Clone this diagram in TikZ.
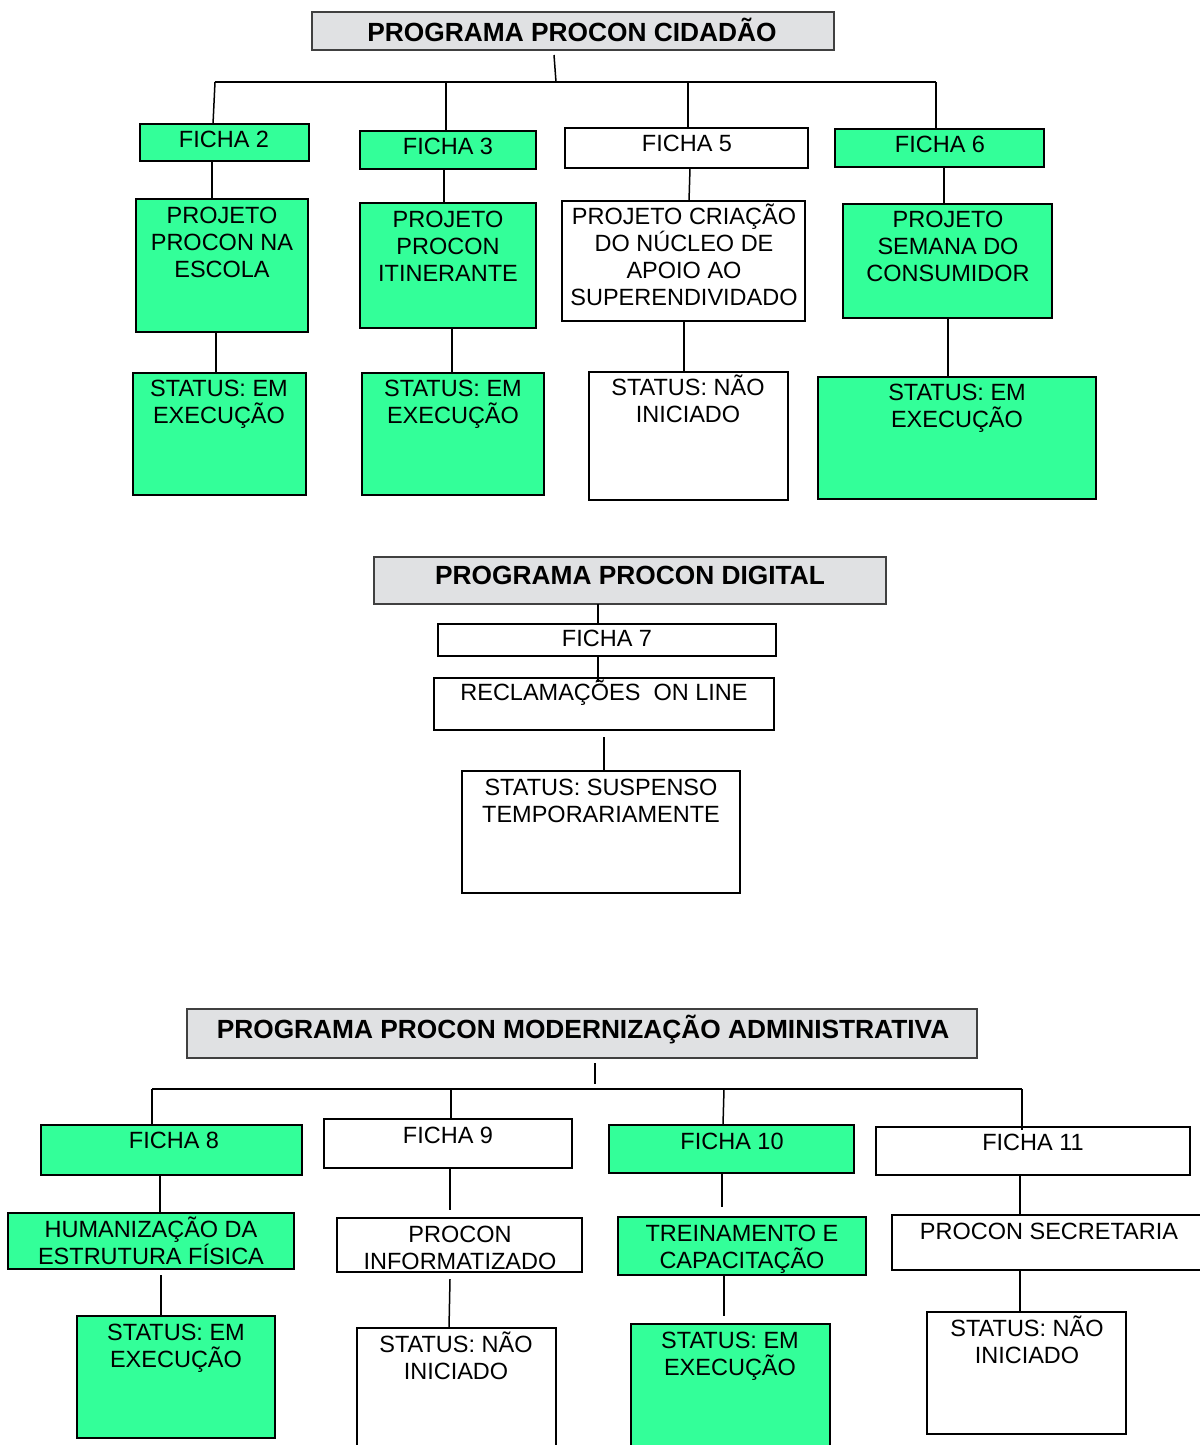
\documentclass[tikz,border=0pt]{standalone}
\usepackage{fontspec}
\setmainfont{Liberation Sans}
\usetikzlibrary{calc}
\definecolor{grn}{HTML}{33FF99}
\definecolor{ttlgray}{HTML}{E0E1E3}
\definecolor{ttlborder}{HTML}{404040}
\newcommand{\mybox}[6]{\node[#6, minimum width={(#4)-(#2)}, minimum height={(#5)-(#3)}] (#1) at ({((#2)+(#4))/2},{((#3)+(#5))/2}) {};}
\newcommand{\mytext}[5][]{\node[txt,#1] (#2) at (#3,{(#4)-13.6}) {\rule{0pt}{22pt}#5};}
\tikzset{
  boxbase/.style={rectangle, draw=black, line width=1.6pt, inner sep=0pt, outer sep=0pt},
  gbox/.style={boxbase, fill=grn},
  wbox/.style={boxbase, fill=white},
  ttlbox/.style={rectangle, draw=ttlborder, line width=2.2pt, fill=ttlgray, inner sep=0pt, outer sep=0pt},
  txt/.style={font=\fontsize{23.5}{27}\selectfont, align=center, inner sep=0pt, anchor=north},
  ttl/.style={font=\bfseries\fontsize{26.3}{30}\selectfont},
  conn/.style={line width=1.5pt, draw=black},
}
\begin{document}
\begin{tikzpicture}[x=1pt,y=-1pt]
\useasboundingbox (0,0) rectangle (1199,1445);
\fill[white] (0,0) rectangle (1199,1445);

% ---------- Section 1 ----------
\mybox{t1}{312}{12}{834}{50}{ttlbox}
\mybox{f2}{140}{124}{309}{161}{gbox}
\mybox{f3}{360}{131}{536}{169}{gbox}
\mybox{f5}{565}{128}{808}{168}{wbox}
\mybox{f6}{835}{129}{1044}{167}{gbox}
\mybox{p2}{136}{199}{308}{332}{gbox}
\mybox{p3}{360}{203}{536}{328}{gbox}
\mybox{p5}{562}{201}{805}{321}{wbox}
\mybox{p6}{843}{204}{1052}{318}{gbox}
\mybox{s2}{133}{373}{306}{495}{gbox}
\mybox{s3}{362}{373}{544}{495}{gbox}
\mybox{s5}{589}{372}{788}{500}{wbox}
\mybox{s6}{818}{377}{1096}{499}{gbox}

\mytext[ttl]{t1t}{572}{31}{PROGRAMA PROCON CIDADÃO}
\mytext{f2t}{224}{139}{FICHA 2}
\mytext{f3t}{448}{146}{FICHA 3}
\mytext{f5t}{687}{143}{FICHA 5}
\mytext{f6t}{940}{144}{FICHA 6}
\mytext{p2t}{222}{215}{PROJETO\\PROCON NA\\ESCOLA}
\mytext{p3t}{448}{219}{PROJETO\\PROCON\\ITINERANTE}
\mytext{p5t}{684}{216}{PROJETO CRIAÇÃO\\DO NÚCLEO DE\\APOIO AO\\SUPERENDIVIDADO}
\mytext{p6t}{948}{219}{PROJETO\\SEMANA DO\\CONSUMIDOR}
\mytext{s2t}{219}{388}{STATUS: EM\\EXECUÇÃO}
\mytext{s3t}{453}{388}{STATUS: EM\\EXECUÇÃO}
\mytext{s5t}{688}{387}{STATUS: NÃO\\INICIADO}
\mytext{s6t}{957}{392}{STATUS: EM\\EXECUÇÃO}

\coordinate (b1L) at (215,82);
\coordinate (b1R) at (936,82);
\coordinate (b1M) at (556,82);
\draw[conn] ($(554,0 |- t1.south)+(0,5)$) -- (b1M);
\draw[conn] (b1L) -- (b1R);
\draw[conn] (b1L) -- (213,0 |- f2.north);
\draw[conn] (446,0 |- b1L) -- (446,0 |- f3.north);
\draw[conn] (688,0 |- b1L) -- (688,0 |- f5.north);
\draw[conn] (b1R) -- (936,0 |- f6.north);
\draw[conn] (212,0 |- f2.south) -- (212,0 |- p2.north);
\draw[conn] (444,0 |- f3.south) -- (444,0 |- p3.north);
\draw[conn] (690,0 |- f5.south) -- (689,0 |- p5.north);
\draw[conn] (944,0 |- f6.south) -- (944,0 |- p6.north);
\draw[conn] (216,0 |- p2.south) -- (216,0 |- s2.north);
\draw[conn] (452,0 |- p3.south) -- (452,0 |- s3.north);
\draw[conn] (684,0 |- p5.south) -- (684,0 |- s5.north);
\draw[conn] (948,0 |- p6.south) -- (948,0 |- s6.north);

% ---------- Section 2 ----------
\mybox{t2}{374}{557}{886}{604}{ttlbox}
\mybox{f7}{438}{624}{776}{656}{wbox}
\mybox{r7}{434}{678}{774}{730}{wbox}
\mybox{s7}{462}{771}{740}{893}{wbox}

\draw[conn] (598,0 |- t2.south) -- (598,0 |- f7.north);
\draw[conn] (598,0 |- f7.south) -- ($(598,0 |- r7.north)+(0,4)$);
\draw[conn] ($(604,0 |- r7.south)+(0,7)$) -- (604,0 |- s7.north);

\mytext[ttl]{t2t}{630}{576}{PROGRAMA PROCON DIGITAL}
\mytext{f7t}{607}{638}{FICHA 7}
\mytext{r7t}{604}{692}{RECLAMAÇÕES\ \ ON LINE}
\mytext{s7t}{601}{787}{STATUS: SUSPENSO\\TEMPORARIAMENTE}

% ---------- Section 3 ----------
\mybox{t3}{187}{1009}{977}{1058}{ttlbox}
\mybox{f8}{41}{1125}{302}{1175}{gbox}
\mybox{f9}{324}{1119}{572}{1168}{wbox}
\mybox{f10}{609}{1125}{854}{1173}{gbox}
\mybox{f11}{876}{1127}{1190}{1175}{wbox}
\mybox{h8}{8}{1213}{294}{1269}{gbox}
\mybox{h9}{337}{1218}{582}{1272}{wbox}
\mybox{h10}{618}{1217}{866}{1275}{gbox}
\mybox{h11}{892}{1215}{1215}{1270}{wbox}
\mybox{s8}{77}{1316}{275}{1438}{gbox}
\mybox{s9}{357}{1328}{556}{1465}{wbox}
\mybox{s10}{631}{1324}{830}{1465}{gbox}
\mybox{s11}{927}{1312}{1126}{1434}{wbox}

\coordinate (b3L) at (152,1089);
\coordinate (b3R) at (1022,1089);
\draw[conn] ($(595,0 |- t3.south)+(0,5)$) -- ($(595,0 |- b3L)+(0,-5)$);
\draw[conn] (b3L) -- (b3R);
\draw[conn] (b3L) -- (152,0 |- f8.north);
\draw[conn] (451,0 |- b3L) -- (451,0 |- f9.north);
\draw[conn] (724,0 |- b3L) -- (723,0 |- f10.north);
\draw[conn] (b3R) -- ($(1022,0 |- f11.north)+(0,3)$);
\draw[conn] (160,0 |- f8.south) -- (160,0 |- h8.north);
\draw[conn] (450,0 |- f9.south) -- ($(450,0 |- h9.north)+(0,-8)$);
\draw[conn] (722,0 |- f10.south) -- ($(722,0 |- h10.north)+(0,-10)$);
\draw[conn] (1020,0 |- f11.south) -- (1020,0 |- h11.north);
\draw[conn] ($(161,0 |- h8.south)+(0,6)$) -- (161,0 |- s8.north);
\draw[conn] ($(450,0 |- h9.south)+(0,7)$) -- (449,0 |- s9.north);
\draw[conn] (724,0 |- h10.south) -- ($(724,0 |- s10.north)+(0,-8)$);
\draw[conn] (1020,0 |- h11.south) -- (1020,0 |- s11.north);

\mytext[ttl]{t3t}{583}{1028}{PROGRAMA PROCON MODERNIZAÇÃO ADMINISTRATIVA}
\mytext{f8t}{174}{1140}{FICHA 8}
\mytext{f9t}{448}{1135}{FICHA 9}
\mytext{f10t}{732}{1141}{FICHA 10}
\mytext{f11t}{1033}{1142}{FICHA 11}
\mytext{h8t}{151}{1229}{HUMANIZAÇÃO DA\\ESTRUTURA FÍSICA}
\mytext{h9t}{460}{1234}{PROCON\\INFORMATIZADO}
\mytext{h10t}{742}{1233}{TREINAMENTO E\\CAPACITAÇÃO}
\mytext{h11t}{1049}{1231}{PROCON SECRETARIA}
\mytext{s8t}{176}{1332}{STATUS: EM\\EXECUÇÃO}
\mytext{s9t}{456}{1344}{STATUS: NÃO\\INICIADO}
\mytext{s10t}{730}{1340}{STATUS: EM\\EXECUÇÃO}
\mytext{s11t}{1027}{1328}{STATUS: NÃO\\INICIADO}
\end{tikzpicture}
\end{document}
